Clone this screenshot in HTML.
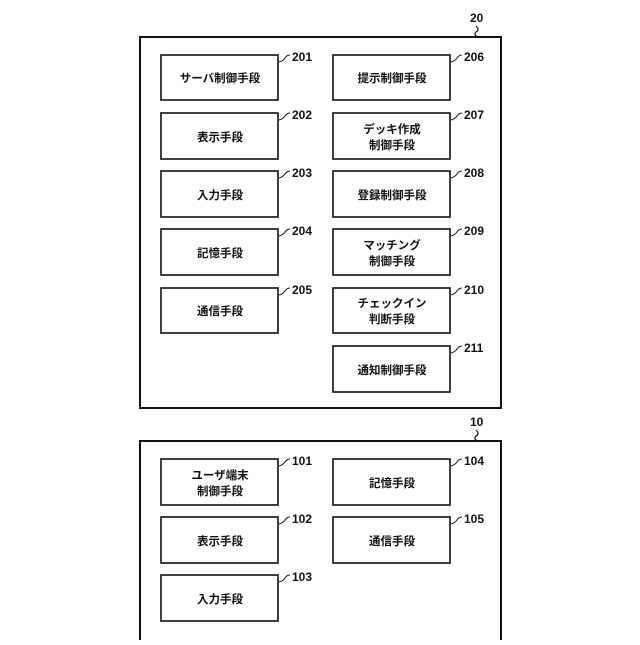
<!DOCTYPE html>
<html><head><meta charset="utf-8"><style>
body{margin:0;background:#fff;}
svg text{font-family:"Liberation Sans","Noto Sans CJK JP",sans-serif;font-weight:bold;fill:#111;}
</style></head><body>
<svg width="640" height="640" viewBox="0 0 640 640" xmlns="http://www.w3.org/2000/svg">
<g fill="none" stroke="#111" stroke-width="2">
<rect x="140" y="37" width="361" height="371"/>
<path d="M140 640 V441 H501 V640"/>
<path d="M476 26 q4 4 0 6 q-3 3 2 5" stroke-width="1.2"/>
<path d="M476 430 q4 4 0 6 q-3 3 2 5" stroke-width="1.2"/>
</g>
<g fill="none" stroke="#111" stroke-width="1.6" id="boxes">
<rect x="161" y="55" width="117" height="45"/>
<rect x="161" y="113" width="117" height="46"/>
<rect x="161" y="171" width="117" height="46"/>
<rect x="161" y="229" width="117" height="46"/>
<rect x="161" y="288" width="117" height="45"/>
<rect x="333" y="55" width="117" height="45"/>
<rect x="333" y="113" width="117" height="46"/>
<rect x="333" y="171" width="117" height="46"/>
<rect x="333" y="229" width="117" height="46"/>
<rect x="333" y="288" width="117" height="45"/>
<rect x="333" y="346" width="117" height="46"/>
<rect x="161" y="459" width="117" height="46"/>
<rect x="161" y="517" width="117" height="46"/>
<rect x="161" y="575" width="117" height="46"/>
<rect x="333" y="459" width="117" height="46"/>
<rect x="333" y="517" width="117" height="46"/>
</g>
<g fill="none" stroke="#111" stroke-width="1">
<path d="M279 62 q4 -1 6 -4 q2 -3 5 -3"/>
<path d="M279 120 q4 -1 6 -4 q2 -3 5 -3"/>
<path d="M279 178 q4 -1 6 -4 q2 -3 5 -3"/>
<path d="M279 236 q4 -1 6 -4 q2 -3 5 -3"/>
<path d="M279 295 q4 -1 6 -4 q2 -3 5 -3"/>
<path d="M451 62 q4 -1 6 -4 q2 -3 5 -3"/>
<path d="M451 120 q4 -1 6 -4 q2 -3 5 -3"/>
<path d="M451 178 q4 -1 6 -4 q2 -3 5 -3"/>
<path d="M451 236 q4 -1 6 -4 q2 -3 5 -3"/>
<path d="M451 295 q4 -1 6 -4 q2 -3 5 -3"/>
<path d="M451 353 q4 -1 6 -4 q2 -3 5 -3"/>
<path d="M279 466 q4 -1 6 -4 q2 -3 5 -3"/>
<path d="M279 524 q4 -1 6 -4 q2 -3 5 -3"/>
<path d="M279 582 q4 -1 6 -4 q2 -3 5 -3"/>
<path d="M451 466 q4 -1 6 -4 q2 -3 5 -3"/>
<path d="M451 524 q4 -1 6 -4 q2 -3 5 -3"/>
</g>
<g font-size="12">
<text x="470" y="22">20</text>
<text x="470" y="426">10</text>
<text x="292" y="61">201</text><text x="292" y="119">202</text><text x="292" y="177">203</text><text x="292" y="235">204</text><text x="292" y="294">205</text>
<text x="464" y="61">206</text><text x="464" y="119">207</text><text x="464" y="177">208</text><text x="464" y="235">209</text><text x="464" y="294">210</text><text x="464" y="352">211</text>
<text x="292" y="465">101</text><text x="292" y="523">102</text><text x="292" y="581">103</text>
<text x="464" y="465">104</text><text x="464" y="523">105</text>
</g>
<g font-size="11.5" text-anchor="middle">
<text x="220" y="82">サーバ制御手段</text>
<text x="220" y="141">表示手段</text>
<text x="220" y="199">入力手段</text>
<text x="220" y="257">記憶手段</text>
<text x="220" y="315">通信手段</text>
<text x="392" y="82">提示制御手段</text>
<text x="392" y="133">デッキ作成</text><text x="392" y="149">制御手段</text>
<text x="392" y="199">登録制御手段</text>
<text x="392" y="249">マッチング</text><text x="392" y="265">制御手段</text>
<text x="392" y="307">チェックイン</text><text x="392" y="323">判断手段</text>
<text x="392" y="374">通知制御手段</text>
<text x="220" y="479">ユーザ端末</text><text x="220" y="495">制御手段</text>
<text x="220" y="545">表示手段</text>
<text x="220" y="603">入力手段</text>
<text x="392" y="487">記憶手段</text>
<text x="392" y="545">通信手段</text>
</g>
</svg>
</body></html>
